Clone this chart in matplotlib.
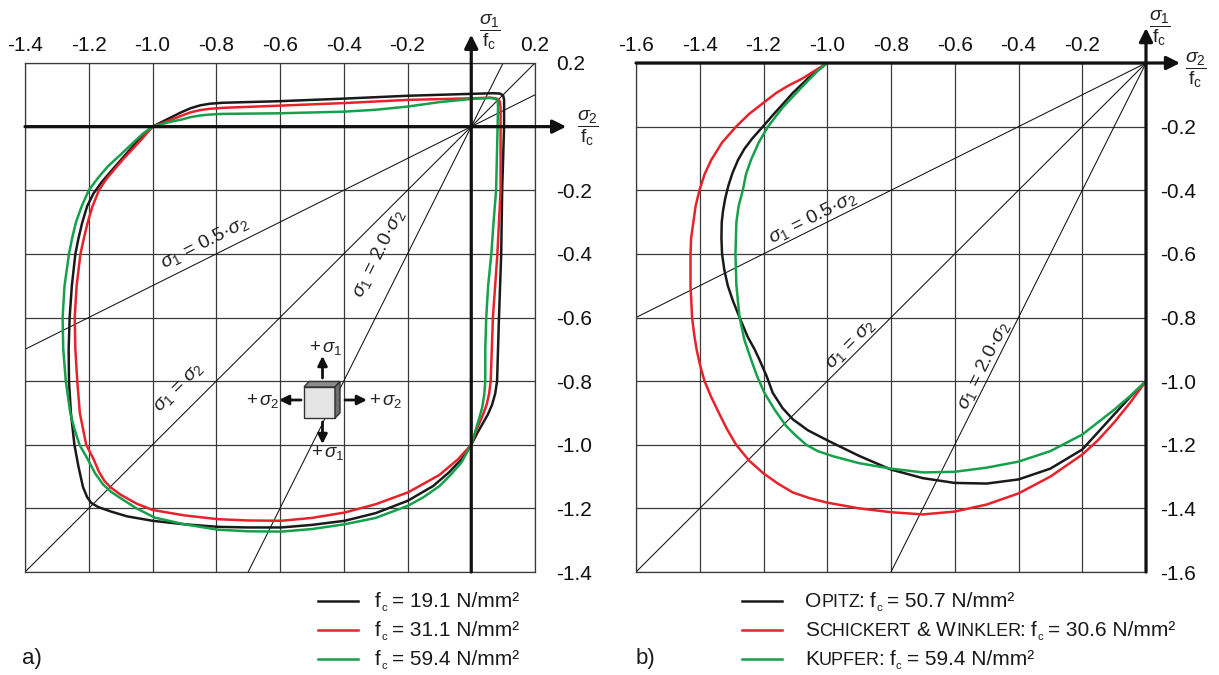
import numpy as np
import matplotlib
matplotlib.use('Agg')
import matplotlib.pyplot as plt
from matplotlib.patches import Polygon, FancyArrowPatch
from matplotlib.lines import Line2D

plt.rcParams['font.family'] = ['Liberation Sans', 'DejaVu Sans']
plt.rcParams['mathtext.fontset'] = 'custom'
plt.rcParams['mathtext.rm'] = 'Liberation Sans'
plt.rcParams['mathtext.it'] = 'Liberation Sans:italic'
plt.rcParams['mathtext.bf'] = 'Liberation Sans:bold'

# ---------------- data (sigma2/fc = x, sigma1/fc = y) ----------------
# panel a) : fc = 19.1 N/mm2
a_black_s2 = [-1.0, -0.97, -0.94, -0.91, -0.88, -0.85, -0.82, -0.78, -0.6, -0.4, -0.2, 0.0,
              0.07, 0.09, 0.1, 0.103, 0.103, 0.097, 0.094, 0.087, 0.081, 0.075, 0.065, 0.052,
              0.035, 0.018, 0.0, -0.03, -0.07, -0.12, -0.199, -0.3, -0.397, -0.5, -0.596, -0.7,
              -0.795, -0.9, -1.0, -1.08, -1.13, -1.17, -1.192, -1.205, -1.218, -1.232, -1.245,
              -1.256, -1.262, -1.263, -1.26, -1.253, -1.242, -1.232, -1.22, -1.205, -1.185,
              -1.16, -1.13, -1.095, -1.06, -1.03, -1.0]
a_black_s1 = [0.0, 0.015, 0.03, 0.045, 0.058, 0.067, 0.072, 0.075, 0.08, 0.088, 0.097, 0.103,
              0.105, 0.104, 0.098, 0.085, 0.0, -0.2, -0.4, -0.6, -0.8, -0.84, -0.875, -0.905,
              -0.935, -0.965, -1.0, -1.045, -1.087, -1.13, -1.176, -1.215, -1.239, -1.252, -1.26,
              -1.26, -1.258, -1.25, -1.239, -1.225, -1.21, -1.196, -1.183, -1.165, -1.133, -1.07,
              -1.0, -0.9, -0.8, -0.7, -0.6, -0.5, -0.4, -0.35, -0.3, -0.25, -0.21, -0.175,
              -0.14, -0.1, -0.06, -0.03, 0.0]
# fc = 31.1 N/mm2
a_red_s2 = [-1.0, -0.97, -0.94, -0.91, -0.88, -0.85, -0.82, -0.78, -0.6, -0.4, -0.2, 0.0,
            0.06, 0.08, 0.089, 0.092, 0.092, 0.082, 0.068, 0.061, 0.056, 0.048, 0.037, 0.022,
            0.01, 0.0, -0.042, -0.1, -0.199, -0.3, -0.397, -0.5, -0.596, -0.7, -0.795, -0.9,
            -1.0, -1.05, -1.1, -1.13, -1.15, -1.168, -1.185, -1.208, -1.218, -1.228, -1.236,
            -1.242, -1.244, -1.238, -1.226, -1.215, -1.203, -1.188, -1.168, -1.145, -1.12,
            -1.09, -1.06, -1.03, -1.0]
a_red_s1 = [0.0, 0.01, 0.022, 0.034, 0.045, 0.052, 0.056, 0.059, 0.066, 0.074, 0.084, 0.089,
            0.091, 0.088, 0.08, 0.06, -0.2, -0.4, -0.6, -0.8, -0.84, -0.875, -0.905, -0.94,
            -0.97, -1.0, -1.046, -1.095, -1.15, -1.187, -1.213, -1.23, -1.239, -1.238, -1.234,
            -1.222, -1.205, -1.185, -1.157, -1.135, -1.115, -1.085, -1.045, -1.0, -0.95, -0.9,
            -0.8, -0.7, -0.6, -0.5, -0.4, -0.35, -0.3, -0.25, -0.2, -0.165, -0.135, -0.1,
            -0.068, -0.035, 0.0]
# fc = 59.4 N/mm2
a_green_s2 = [-1.0, -0.97, -0.94, -0.91, -0.88, -0.85, -0.82, -0.78, -0.6, -0.4, -0.3, -0.2,
              -0.1, 0.0, 0.06, 0.076, 0.083, 0.084, 0.078, 0.07, 0.063, 0.053, 0.047, 0.044,
              0.044, 0.041, 0.035, 0.027, 0.015, 0.006, 0.0, -0.031, -0.065, -0.1, -0.15, -0.199,
              -0.3, -0.397, -0.5, -0.596, -0.7, -0.795, -0.9, -0.993, -1.05, -1.1, -1.13, -1.155,
              -1.18, -1.203, -1.229, -1.245, -1.258, -1.272, -1.28, -1.282, -1.276, -1.262,
              -1.252, -1.24, -1.222, -1.2, -1.17, -1.14, -1.1, -1.06, -1.03, -1.0]
a_green_s1 = [0.0, 0.008, 0.016, 0.022, 0.03, 0.035, 0.038, 0.04, 0.042, 0.047, 0.053, 0.063,
              0.077, 0.087, 0.09, 0.088, 0.08, 0.06, -0.2, -0.3, -0.4, -0.5, -0.6, -0.7, -0.8,
              -0.84, -0.88, -0.91, -0.95, -0.98, -1.0, -1.056, -1.095, -1.13, -1.165, -1.192,
              -1.23, -1.25, -1.265, -1.273, -1.272, -1.267, -1.25, -1.229, -1.2, -1.168, -1.148,
              -1.125, -1.09, -1.046, -1.0, -0.95, -0.9, -0.8, -0.7, -0.6, -0.5, -0.4, -0.35,
              -0.3, -0.25, -0.2, -0.16, -0.125, -0.088, -0.05, -0.022, 0.0]

# panel b)
b_opitz_s2 = [-1.0, -1.03, -1.06, -1.085, -1.108, -1.14, -1.17, -1.202, -1.235, -1.26, -1.28,
              -1.297, -1.31, -1.32, -1.327, -1.331, -1.332, -1.33, -1.323, -1.312, -1.295,
              -1.275, -1.25, -1.228, -1.213, -1.19, -1.171, -1.14, -1.108, -1.06, -0.992, -0.9,
              -0.8, -0.7, -0.6, -0.5, -0.4, -0.3, -0.2, -0.15, -0.1, -0.05, 0.0]
b_opitz_s1 = [0.0, -0.022, -0.048, -0.072, -0.094, -0.13, -0.163, -0.2, -0.237, -0.27, -0.305,
              -0.345, -0.385, -0.425, -0.465, -0.5, -0.55, -0.6, -0.65, -0.7, -0.75, -0.8,
              -0.86, -0.9, -0.932, -0.985, -1.037, -1.085, -1.12, -1.155, -1.19, -1.235,
              -1.278, -1.305, -1.32, -1.322, -1.309, -1.275, -1.215, -1.16, -1.105, -1.05, -1.0]
b_schickert_s2 = [-1.0, -1.04, -1.08, -1.12, -1.16, -1.2, -1.245, -1.286, -1.33, -1.364, -1.385,
                  -1.401, -1.413, -1.42, -1.427, -1.429, -1.429, -1.424, -1.418, -1.41, -1.399,
                  -1.385, -1.364, -1.34, -1.315, -1.286, -1.245, -1.2, -1.155, -1.108, -1.055,
                  -1.0, -0.9, -0.8, -0.7, -0.6, -0.5, -0.4, -0.3, -0.2, -0.15, -0.1, -0.05, 0.0]
b_schickert_s1 = [0.0, -0.025, -0.05, -0.07, -0.094, -0.125, -0.16, -0.2, -0.25, -0.305, -0.35,
                  -0.4, -0.45, -0.5, -0.55, -0.6, -0.7, -0.8, -0.85, -0.9, -0.95, -1.0, -1.05,
                  -1.1, -1.15, -1.2, -1.25, -1.29, -1.322, -1.35, -1.368, -1.382, -1.4, -1.412,
                  -1.419, -1.41, -1.388, -1.353, -1.3, -1.231, -1.185, -1.13, -1.068, -1.0]
b_kupfer_s2 = [-1.0, -1.03, -1.06, -1.097, -1.14, -1.186, -1.215, -1.239, -1.255, -1.265, -1.278,
               -1.285, -1.288, -1.285, -1.275, -1.26, -1.239, -1.22, -1.197, -1.165, -1.129,
               -1.1, -1.066, -1.03, -0.982, -0.9, -0.8, -0.7, -0.6, -0.5, -0.4, -0.3, -0.2,
               -0.1, -0.05, 0.0]
b_kupfer_s1 = [0.0, -0.025, -0.055, -0.094, -0.14, -0.2, -0.25, -0.304, -0.35, -0.4, -0.45,
               -0.5, -0.6, -0.7, -0.8, -0.87, -0.932, -0.985, -1.037, -1.09, -1.141, -1.17,
               -1.2, -1.22, -1.236, -1.258, -1.275, -1.287, -1.285, -1.272, -1.253, -1.22,
               -1.168, -1.09, -1.047, -1.0]

ratio_slopes = [0.5, 1.0, 2.0]

a_xticks = [-1.4, -1.2, -1.0, -0.8, -0.6, -0.4, -0.2, 0.0, 0.2]
a_xlabels = ['-1.4', '-1.2', '-1.0', '-0.8', '-0.6', '-0.4', '-0.2', '', '0.2']
a_yticks = [0.2, 0.0, -0.2, -0.4, -0.6, -0.8, -1.0, -1.2, -1.4]
a_ylabels = ['0.2', '', '-0.2', '-0.4', '-0.6', '-0.8', '-1.0', '-1.2', '-1.4']
b_xticks = [-1.6, -1.4, -1.2, -1.0, -0.8, -0.6, -0.4, -0.2, 0.0]
b_xlabels = ['-1.6', '-1.4', '-1.2', '-1.0', '-0.8', '-0.6', '-0.4', '-0.2', '']
b_yticks = [0.0, -0.2, -0.4, -0.6, -0.8, -1.0, -1.2, -1.4, -1.6]
b_ylabels = ['', '-0.2', '-0.4', '-0.6', '-0.8', '-1.0', '-1.2', '-1.4', '-1.6']

SC = 13  # small-caps size
a_legend_values = ['19.1', '31.1', '59.4']
b_legend_names = [[('O', 15), ('PITZ', SC)],
                  [('S', 15), ('CHICKERT', SC), ('&', 15, 6), ('W', 15, 6), ('INKLER', SC)],
                  [('K', 15), ('UPFER', SC)]]
b_legend_values = ['50.7', '30.6', '59.4']

BLACK = '#1a1a1a'
RED = '#e8222b'
GREEN = '#16a04b'
GRID = '#3a3a3a'

W, H = 1219, 675
fig = plt.figure(figsize=(W / 100, H / 100), dpi=100)
axL = fig.add_axes([25 / W, 1 - 572 / H, 510 / W, 509 / H])
axR = fig.add_axes([636 / W, 1 - 572 / H, 510 / W, 509 / H])


def setup(ax, xt, xl, yt, yl, lim, ypad):
    ax.set_xlim(lim)
    ax.set_ylim(lim)
    ax.set_xticks(xt)
    ax.set_xticklabels(xl)
    ax.set_yticks(yt)
    ax.set_yticklabels(yl)
    ax.tick_params(top=True, labeltop=True, bottom=False, labelbottom=False,
                   left=False, labelleft=False, right=True, labelright=True,
                   length=0, labelsize=15, colors='#111111')
    ax.tick_params(axis='x', pad=6)
    ax.tick_params(axis='y', pad=ypad)
    for lab in ax.get_yticklabels():
        lab.set_horizontalalignment('left')
    ax.grid(True, color=GRID, lw=0.9)
    ax.set_axisbelow(True)
    for s in ax.spines.values():
        s.set_color(GRID)
        s.set_linewidth(0.9)
    for s in ratio_slopes:
        ax.axline((0, 0), slope=s, color='#111111', lw=0.75, zorder=2)


setup(axL, a_xticks, a_xlabels, a_yticks, a_ylabels, (-1.4, 0.2), 15)
setup(axR, b_xticks, b_xlabels, b_yticks, b_ylabels, (-1.6, 0.0), 10)

ckw = dict(lw=1.8, zorder=3, solid_joinstyle='round', solid_capstyle='round')
axL.plot(a_black_s2, a_black_s1, color=BLACK, **ckw)
axL.plot(a_red_s2, a_red_s1, color=RED, **ckw)
axL.plot(a_green_s2, a_green_s1, color=GREEN, **ckw)
axR.plot(b_opitz_s2, b_opitz_s1, color=BLACK, **ckw)
axR.plot(b_schickert_s2, b_schickert_s1, color=RED, **ckw)
axR.plot(b_kupfer_s2, b_kupfer_s1, color=GREEN, **ckw)

# coordinate axes with arrows
arrow_kw = dict(arrowstyle='-|>', lw=2.3, color='#111111', mutation_scale=20,
                shrinkA=0, shrinkB=0)
for ax, lo, tipx, tipy in [(axL, -1.4, 0.298, 0.289), (axR, -1.6, 0.107, 0.11)]:
    ax.annotate('', xy=(tipx, 0), xytext=(lo, 0), arrowprops=arrow_kw,
                annotation_clip=False, zorder=5)
    ax.annotate('', xy=(0, tipy), xytext=(0, lo), arrowprops=arrow_kw,
                annotation_clip=False, zorder=5)


def ftext(px, py, s, **kw):
    return fig.text(px / W, 1 - py / H, s, **kw)


frac1 = r'$\dfrac{\sigma_1}{\mathregular{f}_\mathregular{c}}$'
frac2 = r'$\dfrac{\sigma_2}{\mathregular{f}_\mathregular{c}}$'
for (px, py, s) in [(490, 32, frac1), (588, 128, frac2), (1160, 28, frac1), (1196, 70, frac2)]:
    ftext(px, py, s, fontsize=14, ha='center', va='center', color='#222222')


def line_label(ax, x, y, slope, s, lim_span):
    sx = 510 / lim_span
    sy = 509 / lim_span
    ang = np.degrees(np.arctan2(slope * sy, sx))
    ax.text(x, y, s, rotation=ang, rotation_mode='anchor', ha='center', va='center',
            fontsize=14, color='#222222', zorder=4)


lab05 = r'$\sigma_1$ = 0.5·$\sigma_2$'
lab10 = r'$\sigma_1$ = $\sigma_2$'
lab20 = r'$\sigma_1$ = 2.0·$\sigma_2$'
line_label(axL, -0.835, -0.365, 0.5, lab05, 1.6)
line_label(axL, -0.915, -0.82, 1.0, lab10, 1.6)
line_label(axL, -0.29, -0.40, 2.0, lab20, 1.6)
line_label(axR, -1.045, -0.485, 0.5, lab05, 1.6)
line_label(axR, -0.925, -0.885, 1.0, lab10, 1.6)
line_label(axR, -0.51, -0.95, 2.0, lab20, 1.6)


# stress cube icon (panel a)
def P(px, py):
    return (px / W, 1 - py / H)


front = Polygon([P(304, 387), P(335, 387), P(335, 418), P(304, 418)], closed=True,
                transform=fig.transFigure, facecolor='#e4e4e4', edgecolor='#333333', lw=1.0,
                zorder=6)
top = Polygon([P(304, 387), P(309, 381.5), P(340, 381.5), P(335, 387)], closed=True,
              transform=fig.transFigure, facecolor='#8c8c8c', edgecolor='#333333', lw=1.0,
              zorder=6)
side = Polygon([P(335, 387), P(340, 381.5), P(340, 413), P(335, 418)], closed=True,
               transform=fig.transFigure, facecolor='#6e6e6e', edgecolor='#333333', lw=1.0,
               zorder=6)
for p in (front, top, side):
    fig.add_artist(p)

small_arrow = dict(arrowstyle='-|>', lw=2.0, color='#111111', mutation_scale=14,
                   shrinkA=0, shrinkB=0)
for tail, tip in [((322.5, 378), (322.5, 356)), ((301, 400), (279, 400)),
                  ((345, 400), (367, 400)), ((322.5, 422), (322.5, 444))]:
    fig.add_artist(FancyArrowPatch(P(*tail), P(*tip), transform=fig.transFigure,
                                   **small_arrow))
for (px, py, s) in [(326, 348, r'+$\,\sigma_1$'), (263, 401, r'+$\,\sigma_2$'),
                    (386, 401, r'+$\,\sigma_2$'), (328, 453, r'+$\,\sigma_1$')]:
    ftext(px, py, s, fontsize=13.5, ha='center', va='center', color='#222222')

# legends (manual, with small caps and tiny subscript)
renderer = fig.canvas.get_renderer()


def rich(px, py, parts):
    x = px
    for item in parts:
        txt, size = item[0], item[1]
        gap = item[2] if len(item) > 2 else 0
        dy = item[3] if len(item) > 3 else 0
        x += gap
        t = fig.text(x / W, 1 - (py - dy) / H, txt, fontsize=size, va='baseline', ha='left',
                     color='#1a1a1a')
        bb = t.get_window_extent(renderer)
        x = x + bb.width


def fc_parts(val, lead=0):
    return [('f', 15, lead), ('c', 8, 0.5, -4), ('= ' + val + ' N/mm²', 15, 5)]


rows_y = [601, 630, 659]
for yy, col, val in zip(rows_y, [BLACK, RED, GREEN], a_legend_values):
    fig.add_artist(Line2D([318 / W, 358 / W], [1 - yy / H, 1 - yy / H], color=col, lw=1.8,
                          transform=fig.transFigure))
    rich(375, yy + 6, fc_parts(val))

for yy, col, name, val in zip(rows_y, [BLACK, RED, GREEN], b_legend_names, b_legend_values):
    fig.add_artist(Line2D([742 / W, 782 / W], [1 - yy / H, 1 - yy / H], color=col, lw=1.8,
                          transform=fig.transFigure))
    parts = list(name) + [(':', 15, -2)] + fc_parts(val, lead=6)
    rich(805, yy + 6, parts)

ftext(22, 664, 'a)', fontsize=16, ha='left', va='baseline', color='#1a1a1a')
ftext(636, 664, 'b)', fontsize=16, ha='left', va='baseline', color='#1a1a1a')

fig.savefig('out.png', dpi=100)
